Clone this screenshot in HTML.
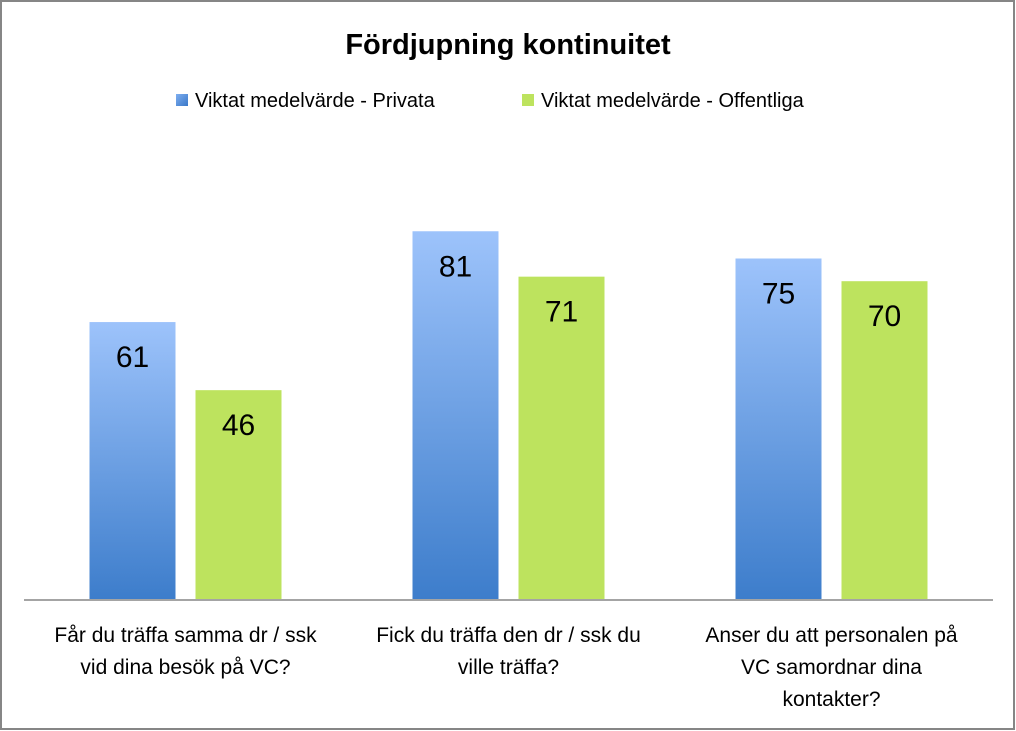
<!DOCTYPE html>
<html><head><meta charset="utf-8"><style>
html,body{margin:0;padding:0;background:#fff}
svg{display:block;font-family:"Liberation Sans",sans-serif}
</style></head><body>
<svg width="1016" height="731" viewBox="0 0 1016 731" xmlns="http://www.w3.org/2000/svg">
<defs>
<linearGradient id="gb" x1="0" y1="0" x2="0" y2="1"><stop offset="0" stop-color="#9dc3fb"/><stop offset="1" stop-color="#3d7dcb"/></linearGradient>
<linearGradient id="gl" x1="0" y1="0" x2="1" y2="1"><stop offset="0" stop-color="#7eaef0"/><stop offset="1" stop-color="#3a78c8"/></linearGradient>
</defs>
<rect x="1" y="1" width="1013" height="728" fill="#fff" stroke="#868686" stroke-width="2"/>
<text x="508" y="54" text-anchor="middle" font-size="29" font-weight="bold" fill="#000">Fördjupning kontinuitet</text>
<g>
<rect x="176" y="94" width="12" height="12" fill="url(#gl)"/>
<text x="195" y="107" font-size="20" fill="#000">Viktat medelvärde - Privata</text>
<rect x="522" y="94" width="12" height="12" fill="#bde35e"/>
<text x="541" y="107" font-size="20" fill="#000">Viktat medelvärde - Offentliga</text>
</g>
<g id="plot"></g>
<line x1="24" y1="600" x2="993" y2="600" stroke="#868686" stroke-width="1.5"/>
</svg>
<script>
const categories = [["Får du träffa samma dr / ssk","vid dina besök på VC?"],["Fick du träffa den dr / ssk du","ville träffa?"],["Anser du att personalen på","VC samordnar dina","kontakter?"]];
const privata = [61, 81, 75];
const offentliga = [46, 71, 70];
const NS="http://www.w3.org/2000/svg";
const g=document.getElementById('plot');
const x0=24, x1=993, base=599, scale=4.54;
const bw=(x1-x0)/categories.length;
const y=v=>base-v*scale;
function mk(t,a){const e=document.createElementNS(NS,t);for(const k in a)e.setAttribute(k,a[k]);g.appendChild(e);return e;}
categories.forEach((c,i)=>{
  const cx=x0+bw*(i+0.5);
  const series=[[privata[i],'url(#gb)',cx-96,'bar-privata-'+(i+1)],[offentliga[i],'#bde35e',cx+10,'bar-offentliga-'+(i+1)]];
  series.forEach(([v,f,bx,n])=>{
    const r=mk('rect',{x:bx,y:y(v),width:86,height:base-y(v),fill:f});
    
    
    const t=mk('text',{x:bx+43,y:y(v)+45,'text-anchor':'middle','font-size':'30',fill:'#000'});
    t.textContent=v;
    
    
  });
  c.forEach((line,j)=>{
    const t=mk('text',{x:cx,y:642+j*32,'text-anchor':'middle','font-size':'21',fill:'#000'});
    t.textContent=line;
    
    
  });
});
</script>
</body></html>
